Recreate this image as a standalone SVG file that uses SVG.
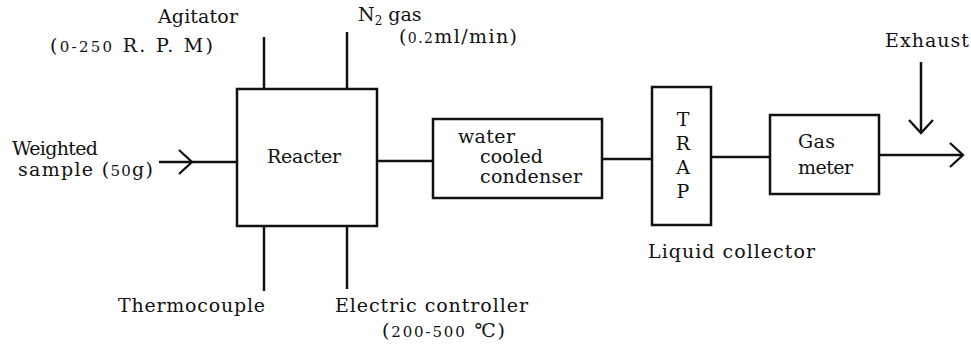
<svg xmlns="http://www.w3.org/2000/svg" width="971" height="345" viewBox="0 0 971 345">
<style>
  text { font-family: "DejaVu Serif", "Liberation Serif", serif; font-size: 19px; fill: #111; }
  .box { fill: none; stroke: #111; stroke-width: 2.5; }
  .ln { fill: none; stroke: #111; stroke-width: 2.5; }
  .sm { font-size: 15px; }
</style>
<defs>
  <marker id="chev" markerUnits="userSpaceOnUse" viewBox="0 0 16 26" refX="14" refY="13" markerWidth="16" markerHeight="26" orient="auto">
    <path d="M1,1 L14,13 L1,25" fill="none" stroke="#111" stroke-width="2.3"/>
  </marker>
</defs>
<rect width="971" height="345" fill="#fff"/>

<g id="connectors">
  <polyline class="ln" points="159,162 192,162 237,162" marker-mid="url(#chev)"/>
  <line class="ln" x1="264" y1="37" x2="264" y2="89"/>
  <line class="ln" x1="347" y1="32" x2="347" y2="89"/>
  <line class="ln" x1="264" y1="226" x2="264" y2="291"/>
  <line class="ln" x1="347" y1="226" x2="347" y2="289"/>
  <line class="ln" x1="377" y1="161" x2="433" y2="161"/>
  <line class="ln" x1="602" y1="159" x2="652" y2="159"/>
  <line class="ln" x1="711" y1="157" x2="770" y2="157"/>
  <line class="ln" x1="879" y1="155" x2="963" y2="155" marker-end="url(#chev)"/>
  <line class="ln" x1="921" y1="62" x2="921" y2="133" marker-end="url(#chev)"/>
</g>

<g id="reacter">
  <rect class="box" x="237" y="89" width="140" height="137"/>
  <text x="267" y="163" textLength="74">Reacter</text>
</g>

<g id="condenser">
  <rect class="box" x="433" y="119" width="169" height="79"/>
  <text x="458" y="143" textLength="57">water</text>
  <text x="480" y="163" textLength="63">cooled</text>
  <text x="480" y="183" textLength="102">condenser</text>
</g>

<g id="trap">
  <rect class="box" x="652" y="87" width="59" height="138"/>
  <text x="683" y="126" text-anchor="middle">T</text>
  <text x="683" y="150" text-anchor="middle">R</text>
  <text x="683" y="174" text-anchor="middle">A</text>
  <text x="683" y="198" text-anchor="middle">P</text>
  <text x="648" y="258" textLength="167">Liquid collector</text>
</g>

<g id="gasmeter">
  <rect class="box" x="770" y="115" width="109" height="79"/>
  <text x="798" y="148" textLength="37">Gas</text>
  <text x="798" y="174" textLength="55">meter</text>
</g>

<g id="agitator">
  <text x="158" y="23" textLength="80">Agitator</text>
  <text x="50" y="52" textLength="163">(<tspan class="sm">0-250</tspan> R. P. M)</text>
</g>

<g id="n2gas">
  <text x="358" y="21">N<tspan font-size="12" dy="4">2</tspan><tspan dy="-4"> gas</tspan></text>
  <text x="399" y="43" font-size="16" textLength="118">(<tspan font-size="14">0.2</tspan>ml/min)</text>
</g>

<g id="sample">
  <text x="12" y="155" textLength="86">Weighted</text>
  <text x="18" y="176" textLength="135">sample (<tspan class="sm">50</tspan>g)</text>
</g>

<g id="thermocouple">
  <text x="118" y="312" textLength="147">Thermocouple</text>
</g>

<g id="controller">
  <text x="335" y="312" textLength="193">Electric controller</text>
  <text x="382" y="337" textLength="123">(<tspan class="sm">200-500</tspan> ℃)</text>
</g>

<g id="exhaust">
  <text x="885" y="47" textLength="84">Exhaust</text>
</g>
</svg>
